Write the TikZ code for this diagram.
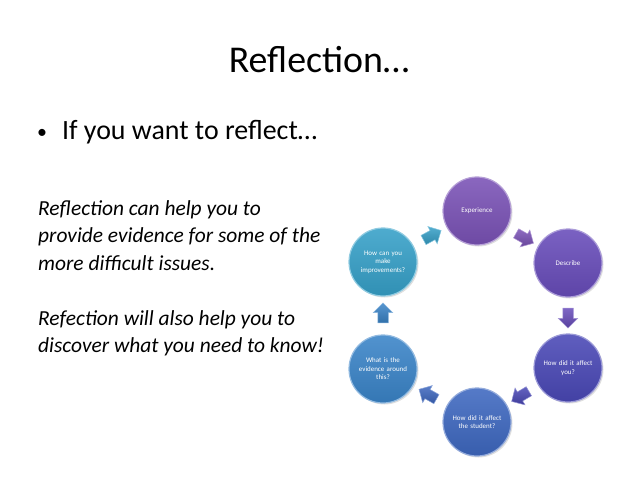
\documentclass[tikz,border=0pt]{standalone}
\usepackage{fontspec}
\setmainfont{Carlito}
\usetikzlibrary{shapes.arrows,shadows}
\definecolor{cA}{RGB}{122,82,182}
\definecolor{cB}{RGB}{104,76,186}
\definecolor{cC}{RGB}{74,72,182}
\definecolor{cD}{RGB}{62,104,192}
\definecolor{cE}{RGB}{58,132,200}
\definecolor{cF}{RGB}{54,160,200}
\tikzset{
  disc/.style={circle, minimum size=68bp, inner sep=0pt, text=white,
    font=\fontsize{7}{8.5}\selectfont, align=center, text width=52bp,
    top color=#1!88!white, bottom color=#1!90!black,
    draw=#1!55!white, line width=1.2bp,
    drop shadow={opacity=0.25, shadow xshift=1.5bp, shadow yshift=-1.5bp}},
  flow/.style={single arrow, minimum height=20bp, text height=10bp, text depth=0pt,
    text width=0pt, single arrow head extend=4.5bp, single arrow tip angle=90, inner sep=0pt,
    sloped, allow upside down, top color=#1!85!white, bottom color=#1!85!black,
    draw=#1!60!white, line width=0.5bp},
  body/.style={anchor=base west, font=\fontsize{21.5}{26}\selectfont\itshape, inner sep=0pt}
}
\begin{document}
\begin{tikzpicture}[x=1bp,y=-1bp]
\useasboundingbox (0,0) rectangle (638,479);
\node[anchor=base, font=\fontsize{38}{40}\selectfont, inner sep=0pt] (title) at (319,73) {Reflection…};
\node[anchor=base west, font=\fontsize{28}{30}\selectfont, inner sep=0pt] (bul) at (37,140) {{\fontsize{20}{20}\selectfont\raisebox{1.5bp}{•}}\hspace{15bp}If you want to reflect…};
\node[body] (p1) at (38,216) {Reflection can help you to};
\node[body] (p2) at (38,243) {provide evidence for some of the};
\node[body] (p3) at (38,270) {more difficult issues.};
\node[body] (p4) at (38,325) {Refection will also help you to};
\node[body] (p5) at (38,352) {discover what you need to know!};

\node[disc=cA] (exp) at (477,211) {Experience};
\node[disc=cB] (des) at (568,263) {Describe};
\node[disc=cC] (you) at (568,368) {How did it affect\\you?};
\node[disc=cD] (stu) at (477,422) {How did it affect\\the student?};
\node[disc=cE] (evi) at (383,369) {What is the\\evidence around\\this?};
\node[disc=cF] (imp) at (383,262) {How can you\\make\\improvements?};

\path (exp) -- node[flow=cA] {} (des);
\path (des) -- node[flow=cB] {} (you);
\path (you) -- node[flow=cC] {} (stu);
\path (stu) -- node[flow=cD] {} (evi);
\path (evi) -- node[flow=cE] {} (imp);
\path (imp) -- node[flow=cF] {} (exp);
\end{tikzpicture}
\end{document}
